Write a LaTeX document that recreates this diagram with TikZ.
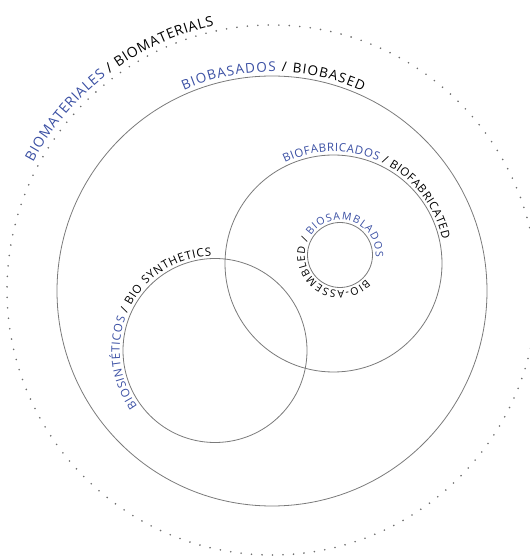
\documentclass[tikz,border=0pt]{standalone}
\usepackage{fontspec}
\setmainfont{Open Sans}
\usetikzlibrary{decorations.text}
\definecolor{bioblue}{HTML}{3A4FA3}
\definecolor{ringgray}{HTML}{7A7A7A}
\newcommand{\lblfont}[2]{\fontsize{#1}{#1}\selectfont\kern#2}
\begin{document}
\begin{tikzpicture}[x=1pt, y=1pt,
        ring/.style={circle, draw=ringgray, line width=0.8pt, inner sep=0pt},
        dotring/.style={circle, draw=ringgray!90!black, line width=1.8pt, line cap=round, dash pattern=on 0pt off 10.5pt, inner sep=0pt},
        arclabel/.style={decorate, decoration={text along path, raise=#1}}]
        \useasboundingbox (0, 0) rectangle (530, 557);
        \path (272, 267) node[dotring, minimum size=530pt](biomaterials) {}
              (272, 266) node[ring, minimum size=430pt](biobased) {}
              (333.5, 293.5) node[ring, minimum size=217pt](biofabricated) {}
              (340, 302) node[ring, minimum size=65pt](bioassembled) {}
              (215, 206.5) node[ring, minimum size=184pt](biosynthetic) {};
        \path[arclabel=5pt, decoration={text={|\lblfont{14pt}{0.55pt}\color{bioblue}|BIOMATERIALES |\lblfont{14pt}{0.55pt}\color{black}|/ BIOMATERIALS}}]
            (biomaterials.152) arc[start angle=152, end angle=40, radius=265pt];
        \path[arclabel=4pt, decoration={text={|\lblfont{13.5pt}{1pt}\color{bioblue}|BIOBASADOS |\lblfont{13.5pt}{1pt}\color{black}|/ BIOBASED}}]
            (biobased.114) arc[start angle=114, end angle=20, radius=215pt];
        \path[arclabel=3pt, decoration={text={|\lblfont{11.5pt}{0.4pt}\color{bioblue}|BIOFABRICADOS |\lblfont{11.5pt}{0.4pt}\color{black}|/ BIOFABRICATED}}]
            (biofabricated.116) arc[start angle=116, end angle=-20, radius=108.5pt];
        \path[arclabel=3pt, decoration={text={|\lblfont{10.5pt}{0.45pt}\color{black}|BIO-ASSEMBLED / |\lblfont{10.5pt}{0.45pt}\color{bioblue}|BIOSAMBLADOS}}]
            (bioassembled.-42) arc[start angle=-42, end angle=-400, radius=32.5pt];
        \path[arclabel=3pt, decoration={text={|\lblfont{11.5pt}{0.6pt}\color{bioblue}|BIOSINTÉTICOS |\lblfont{11.5pt}{0.6pt}\color{black}|/ BIO SYNTHETICS}}]
            (biosynthetic.216) arc[start angle=216, end angle=40, radius=92pt];
    \end{tikzpicture}
\end{document}
